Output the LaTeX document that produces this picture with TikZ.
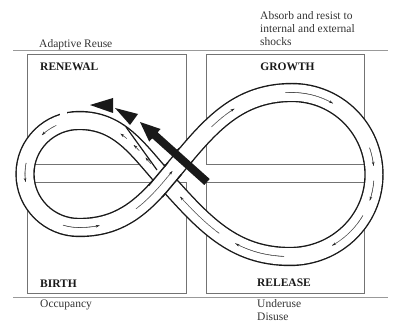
\documentclass[tikz,border=0pt]{standalone}
\usepackage{fontspec}
\setmainfont{Liberation Serif}
\usetikzlibrary{decorations.markings,arrows.meta,calc}
\tikzset{
  rule/.style={draw=black!40, line width=0.9pt},
  box/.style={draw=black!55, line width=1pt},
  track/.style={draw=black!90, line width=1.4pt, double=white, double distance=16.5pt, line join=round},
  trackedge/.style={draw=black!90, line width=1.4pt},
  lbl/.style={inner sep=0pt, font=\fontsize{11.5}{13}\selectfont, text=black!80},
  ttl/.style={inner sep=0pt, font=\fontsize{11.5}{13}\selectfont\bfseries, text=black!90},
  lane/.style 2 args={postaction={decorate, decoration={markings,
      mark=between positions #1 and #2 step 0.3pt with {\fill[black!80] (0,0) circle (0.3pt);}}}},
  lanetip/.style={postaction={decorate, decoration={markings,
      mark=at position #1 with {\arrow[black!85]{Stealth[length=3.6pt,width=2.6pt]}}}}},
  bigfill/.style={fill=black!90, draw=none}
}
\begin{document}
\begin{tikzpicture}[x=1pt,y=1pt]
\useasboundingbox (0,0) rectangle (393,324);

% horizontal rules
\draw[rule] (13,274) -- (388,274);
\draw[rule] (13,27) -- (388,27);

% four boxes
\draw[box] (27,159) rectangle (186,269);
\draw[box] (27,31) rectangle (186,141);
\draw[box] (206,159) rectangle (364,269);
\draw[box] (206,31) rectangle (364,141);

% key points of the figure-eight (centre line)
\coordinate (X)  at (165,144);
\coordinate (RT) at (292,231.5);
\coordinate (RR) at (374,149.5);
\coordinate (RB) at (290,67.5);
\coordinate (LT) at (79,203.5);
\coordinate (LL) at (25,150);
\coordinate (LB) at (79,96.5);

% the track
\draw[track] (LL) to[out=-90,in=180] (LB) to[out=0,in=230] (X)
  to[out=50,in=180] (RT) to[out=0,in=90] (RR) to[out=-90,in=0] (RB)
  to[out=180,in=-48] (X) to[out=132,in=0] (LT) to[out=180,in=90] (LL) -- cycle;

% small break in the outer edge at the top of the left loop
\fill[white] (60,206) rectangle (67,214);

% the rising band passes over the crossing
\draw[trackedge] ($(X)+(140:8.95)+(230:15)$) -- ($(X)+(140:8.95)+(50:15)$);
\draw[trackedge] ($(X)+(-40:8.95)+(230:15)$) -- ($(X)+(-40:8.95)+(50:15)$);

% lane arrows inside the track
\path[lane={0}{0.09}, lanetip=0.09, lane={0.81}{1}] (LL) to[out=-90,in=180] (LB);
\path[lane={0}{0.2}, lanetip=0.2, lane={0.6}{1}] (LB) to[out=0,in=230] (X);
\path[lane={0}{0.07}, lanetip=0.07, lane={0.44}{0.62}, lanetip=0.62, lane={0.96}{1}] (X) to[out=50,in=180] (RT);
\path[lane={0}{0.33}, lanetip=0.33, lane={0.79}{0.93}, lanetip=0.93] (RT) to[out=0,in=90] (RR);
\path[lane={0.05}{0.2}, lanetip=0.2, lane={0.33}{0.66}, lanetip=0.66] (RR) to[out=-90,in=0] (RB);
\path[lane={0.04}{0.37}, lanetip=0.37, lane={0.5}{0.85}, lanetip=0.85] (RB) to[out=180,in=-48] (X);
\path[lane={0.2}{0.27}, lanetip=0.27, lane={0.36}{0.43}, lanetip=0.43, lane={0.52}{0.59}, lanetip=0.59] (X) to[out=132,in=0] (LT);
\path[lane={0.28}{0.48}, lanetip=0.48, lane={0.87}{1}] (LT) to[out=180,in=90] (LL);

% exit arrows (drawn in screen coordinates)
\begin{scope}[yshift=324pt, yscale=-1]
  \draw[trackedge, line width=1.2pt] (157,170) -- (126,127);
  \fill[black!90] (90,105) -- (113,98) -- (113,113) -- cycle;
  \fill[black!90] (115,108) -- (138,114) -- (130,125) -- cycle;
  \fill[black!90] (140,122) -- (160.6,129) -- (157.6,132.3) -- (209.7,179)
     -- (204.3,185) -- (152.2,138.3) -- (149.2,141.6) -- cycle;
  \draw[black!90, line width=0.8pt] (176.3,151) -- (179.0,148.1);
  \draw[black!90, line width=0.8pt] (190.5,163.6) -- (193.2,160.6);
\end{scope}

% labels
\node[lbl, anchor=base west] (reuse) at (39,276) {Adaptive Reuse};
\node[ttl, anchor=base west] (renewal) at (40,253.5) {RENEWAL};
\node[ttl, anchor=base] (growth) at (287.5,253.3) {GROWTH};
\node[lbl, anchor=base west] (abs1) at (260,304.5) {Absorb and resist to};
\node[lbl, anchor=base west] (abs2) at (260,291.3) {internal and external};
\node[lbl, anchor=base west] (abs3) at (260,278.3) {shocks};
\node[ttl, anchor=base west] (birth) at (40,37) {BIRTH};
\node[lbl, anchor=base west] (occ) at (40,16.5) {Occupancy};
\node[ttl, anchor=base] (release) at (284,37.3) {RELEASE};
\node[lbl, anchor=base west] (under) at (257,17) {Underuse};
\node[lbl, anchor=base west] (disuse) at (257,4) {Disuse};
\end{tikzpicture}
\end{document}
